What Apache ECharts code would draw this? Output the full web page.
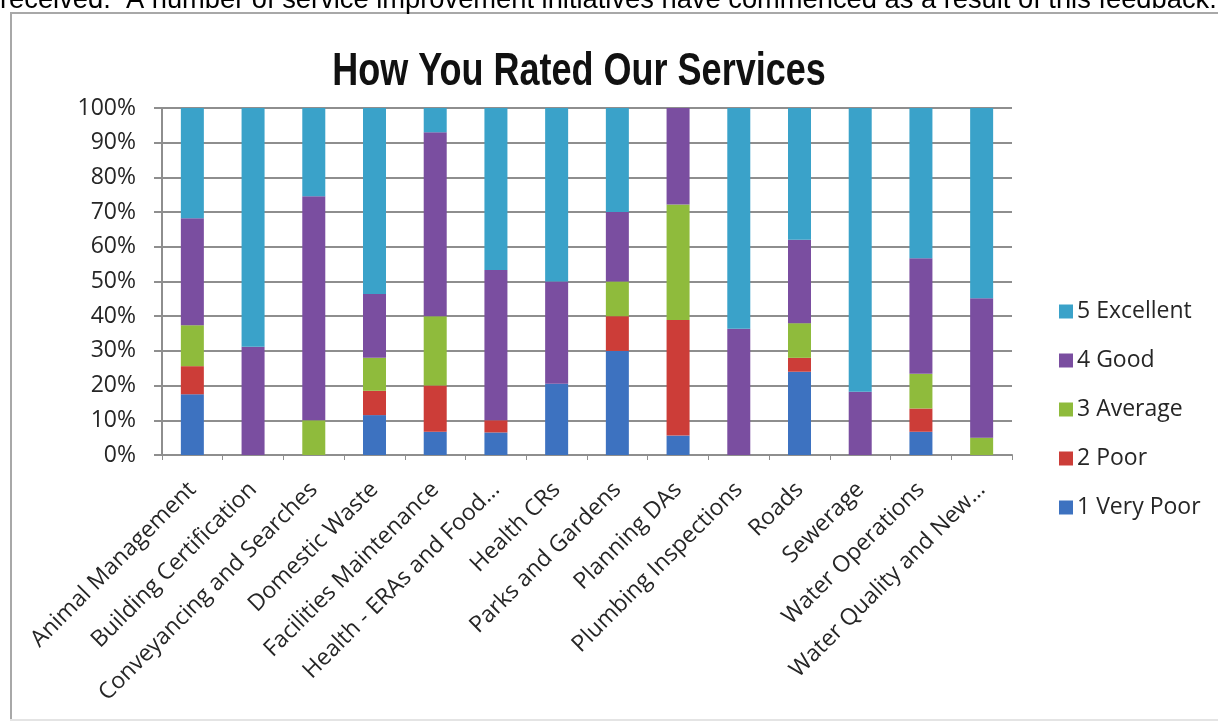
<!DOCTYPE html>
<html>
<head>
<meta charset="utf-8">
<script src="https://cdn.jsdelivr.net/npm/echarts@6/dist/echarts.min.js"></script>
<style>
  html, body { margin: 0; padding: 0; background: #ffffff; overflow: hidden; }
  #chart { width: 1218px; height: 722px; }
</style>
</head>
<body>
<div id="chart"></div>
<script>
// Survey services (x axis)
const categories = [
  'Animal Management', 'Building Certification', 'Conveyancing and Searches',
  'Domestic Waste', 'Facilities Maintenance', 'Health - ERAs and Food\u2026',
  'Health CRs', 'Parks and Gardens', 'Planning DAs', 'Plumbing Inspections',
  'Roads', 'Sewerage', 'Water Operations', 'Water Quality and New\u2026'
];

// Share of responses per rating, in percent
const veryPoor  = [17.5, 0,    0,    11.5, 6.7,  6.5,  20.5, 30, 5.6,  0,    24, 0,    6.7,  0];
const poor      = [8.1,  0,    0,    7,    13.3, 3.5,  0,    10, 33.3, 0,    4,  0,    6.7,  0];
const average   = [11.8, 0,    10,   9.5,  20,   0,    0,    10, 33.3, 0,    10, 0,    10,   5];
const good      = [30.8, 31.2, 64.6, 18.4, 53,   43.3, 29.5, 20, 27.8, 36.4, 24, 18.2, 33.3, 40.2];
const excellent = [31.8, 68.8, 25.4, 53.6, 7,    46.7, 50,   30, 0,    63.6, 38, 81.8, 43.3, 54.8];

const ratingNames = ['1 Very Poor', '2 Poor', '3 Average', '4 Good', '5 Excellent'];
const ratingColors = ['#3d72c0', '#cc3d38', '#8fbb3c', '#7a4ea0', '#3aa2c9'];
const ratingValues = [veryPoor, poor, average, good, excellent];

// y axis: 0% .. 100% in steps of 10
const yMin = 0, yMax = 100, yStep = 10;

const headerText = 'received.  A number of service improvement initiatives have commenced as a result of this feedback.';
const titleText = 'How You Rated Our Services';

const labelFont = '"Open Sans", "DejaVu Sans", sans-serif';
const gridColor = '#8e8e8e';
const frameColor = '#a8a8a8';

const chart = echarts.init(document.getElementById('chart'), null, { renderer: 'canvas' });

chart.setOption({
  animation: false,
  backgroundColor: '#ffffff',
  graphic: [
    {
      type: 'text',
      x: 0, y: 14,
      style: {
        text: headerText,
        font: '27.3px "Liberation Sans", Arial, sans-serif',
        fill: '#000000',
        textAlign: 'left',
        textVerticalAlign: 'bottom'
      },
      z: 10
    },
    // chart frame: top, left and bottom edges (the right edge runs past the page)
    {
      type: 'line',
      shape: { x1: 10, y1: 13, x2: 1218, y2: 13 },
      style: { stroke: frameColor, lineWidth: 2 },
      z: 5
    },
    {
      type: 'line',
      shape: { x1: 11, y1: 13, x2: 11, y2: 720 },
      style: { stroke: frameColor, lineWidth: 2 },
      z: 5
    },
    {
      type: 'line',
      shape: { x1: 10, y1: 720, x2: 1218, y2: 720 },
      style: { stroke: '#e4e4e4', lineWidth: 2 },
      z: 5
    },
    {
      type: 'text',
      x: 579, y: 72,
      scaleY: 1.3,
      style: {
        text: titleText,
        font: 'bold 36px "Liberation Sans", Arial, sans-serif',
        fill: '#111111',
        textAlign: 'center',
        textVerticalAlign: 'middle'
      },
      z: 10
    }
  ],
  legend: {
    orient: 'vertical',
    left: 1054,
    top: 295,
    itemWidth: 14,
    itemHeight: 14,
    itemGap: 26,
    icon: 'rect',
    data: ratingNames.slice().reverse(),
    textStyle: {
      fontFamily: labelFont,
      fontSize: 23,
      lineHeight: 22,
      color: '#262626',
      padding: [0, 0, 0, -1]
    }
  },
  grid: {
    left: 162,
    right: 206,
    top: 108,
    bottom: 267,
    containLabel: false
  },
  xAxis: {
    type: 'category',
    data: categories,
    axisLine: { show: true, lineStyle: { color: gridColor, width: 2 } },
    axisTick: { show: true, length: 5, lineStyle: { color: gridColor, width: 1 } },
    axisLabel: {
      interval: 0,
      rotate: 45,
      margin: 31,
      fontFamily: labelFont,
      fontSize: 23,
      color: '#262626'
    },
    splitLine: { show: false }
  },
  yAxis: {
    type: 'value',
    min: yMin,
    max: yMax,
    interval: yStep,
    axisLine: { show: true, lineStyle: { color: gridColor, width: 2 } },
    axisTick: { show: true, length: 8, lineStyle: { color: gridColor, width: 2 } },
    axisLabel: {
      formatter: '{value}%',
      margin: 26,
      fontFamily: labelFont,
      fontSize: 23,
      color: '#262626'
    },
    splitLine: { show: true, lineStyle: { color: gridColor, width: 2 } }
  },
  series: ratingNames.map((name, i) => ({
    name: name,
    type: 'bar',
    stack: 'rating',
    barWidth: 23,
    itemStyle: { color: ratingColors[i] },
    data: ratingValues[i]
  }))
});
</script>
</body>
</html>
